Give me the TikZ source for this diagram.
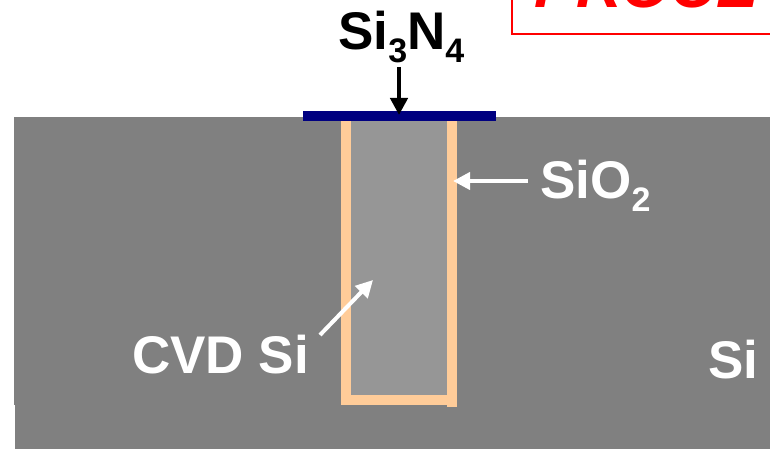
\documentclass[tikz,border=0pt]{standalone}
\usepackage{fontspec}
\setmainfont{Liberation Sans}
\usetikzlibrary{arrows.meta}
\definecolor{sigray}{HTML}{808080}
\definecolor{cvd}{HTML}{969696}
\definecolor{liner}{HTML}{FFCC99}
\definecolor{nitride}{HTML}{000080}
\newcommand{\lowsub}[1]{\raisebox{-13pt}{\fontsize{34pt}{34pt}\selectfont #1}}
\tikzset{
  lab/.style={inner sep=0pt,font=\fontsize{53pt}{53pt}\selectfont\bfseries,anchor=base west},
  black arrow/.style={draw=black,line width=4.5pt,-{Triangle[length=17pt,width=17pt]}},
  white arrow/.style={draw=white,line width=4pt,-{Triangle[length=17pt,width=17pt]}},
}
\begin{document}
\begin{tikzpicture}[x=1pt,y=-1pt]
\useasboundingbox (0,0) rectangle (770,449);
\clip (0,0) rectangle (770,449);
\fill[sigray] (14,117) rectangle (770,405);
\fill[sigray] (15,405) rectangle (770,449);
\fill[cvd] (351,121) rectangle (447,395);
\fill[liner] (341,121) rectangle (351,405);
\fill[liner] (351,395) rectangle (447,405);
\fill[liner] (447,121) rectangle (457,407);
\fill[nitride] (303,111) rectangle (496,121);
\draw[red,line width=2pt] (512,-10) -- (512,34) -- (780,34);
\node[inner sep=0pt,anchor=base west,text=red,font=\fontsize{63pt}{63pt}\selectfont\bfseries\itshape] (title) at (534,8) {PROCE};
\node[lab,text=black] (nit) at (338,50) {Si\lowsub{3}N\lowsub{4}};
\node[lab,text=white] (oxide) at (540,198) {SiO\lowsub{2}};
\node[lab,text=white] (cvdl) at (132,373) {CVD Si};
\node[lab,text=white] (sil) at (708,378) {Si};
\coordinate (nitTop) at (399,67);
\coordinate (nitEnd) at (399,115);
\draw[black arrow] (nitTop) -- (nitEnd);
\coordinate (oxStart) at (528,181);
\coordinate (oxEnd) at (453,181);
\draw[white arrow] (oxStart) -- (oxEnd);
\coordinate (cvStart) at (320,335);
\coordinate (cvEnd) at (373,280);
\draw[white arrow] (cvStart) -- (cvEnd);
\end{tikzpicture}
\end{document}
